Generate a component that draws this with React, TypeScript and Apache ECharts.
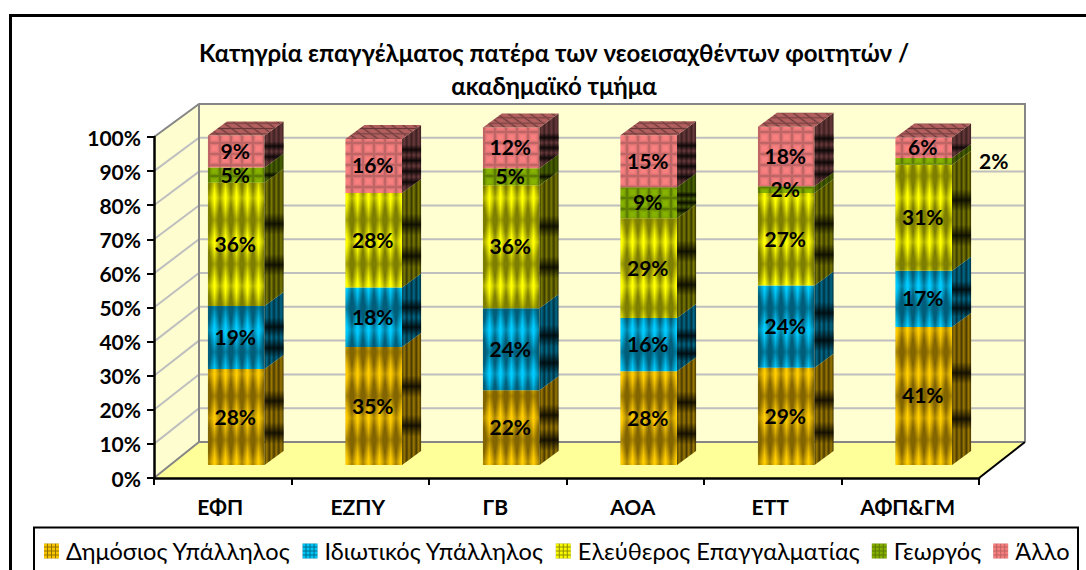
import React, { useEffect, useRef } from "react";
import * as echarts from "echarts";

const FONT = "Lato, 'Open Sans', 'Noto Sans', sans-serif";
const titleText = "Κατηγρία επαγγέλματος πατέρα των νεοεισαχθέντων φοιτητών /\nακαδημαϊκό τμήμα";
const categories = ["ΕΦΠ", "ΕΖΠΥ", "ΓΒ", "ΑΟΑ", "ΕΤΤ", "ΑΦΠ&ΓΜ"];
const seriesNames = ["Δημόσιος Υπάλληλος", "Ιδιωτικός Υπάλληλος", "Ελεύθερος Επαγγαλματίας", "Γεωργός", "Άλλο"];
const dimosios = [28.2, 34.7, 22, 27.6, 28.6, 40.6];
const idiotikos = [18.6, 17.5, 24.1, 15.6, 24.2, 16.5];
const eleftheros = [36.2, 27.8, 36.2, 29.4, 27.2, 31.2];
const georgos = [4.5, 0, 5, 9.1, 2, 2];
const allo = [9.4, 15.9, 12, 15.3, 17.5, 6];
const seriesValues = [dimosios, idiotikos, eleftheros, georgos, allo];
const yTicks = [0, 10, 20, 30, 40, 50, 60, 70, 80, 90, 100];

type Pal = { bright: number[]; dark: number[]; side: string; sideDark: string; kind: "stripe" | "block"; rowPx: number };
const palettes: Pal[] = [
  { bright: [255, 204, 0], dark: [120, 92, 0], side: "#9a7800", sideDark: "#4a3900", kind: "stripe", rowPx: 0 },
  { bright: [0, 204, 255], dark: [0, 84, 110], side: "#006a8a", sideDark: "#00303f", kind: "stripe", rowPx: 0 },
  { bright: [255, 255, 0], dark: [115, 115, 0], side: "#7a7a00", sideDark: "#383800", kind: "stripe", rowPx: 0 },
  { bright: [134, 178, 0], dark: [80, 108, 0], side: "#4a6300", sideDark: "#2a3800", kind: "block", rowPx: 7.5 },
  { bright: [250, 128, 128], dark: [172, 92, 92], side: "#6a3a3c", sideDark: "#3c2021", kind: "block", rowPx: 11 },
];

function tile(w: number, h: number, fn: (x: number, y: number) => number[]) {
  const c = document.createElement("canvas");
  c.width = w;
  c.height = h;
  const g = c.getContext("2d")!;
  const d = g.createImageData(w, h);
  for (let y = 0; y < h; y++)
    for (let x = 0; x < w; x++) {
      const p = fn(x, y);
      const i = (y * w + x) * 4;
      d.data[i] = p[0];
      d.data[i + 1] = p[1];
      d.data[i + 2] = p[2];
      d.data[i + 3] = 255;
    }
  g.putImageData(d, 0, 0);
  return c.toDataURL();
}
const mix = (a: number[], b: number[], t: number) => a.map((v, i) => v + (b[i] - v) * t);
const TW = 11;
const TH = 44;
const BH = 11;

function frontTile(p: Pal) {
  if (p.kind === "stripe")
    return tile(TW, TH, (x, y) => {
      const du = Math.abs((x + 0.5) / TW - 0.5) * 2;
      const dv = Math.abs((y + 0.5) / TH - 0.5) * 2;
      const lobe = Math.max(0, 1 - du * (0.7 + 0.8 * dv));
      return mix(p.dark, p.bright, Math.min(1, 0.08 + lobe * (1 - 0.72 * Math.pow(dv, 1.4))));
    });
  return tile(TW, BH, (x, y) => {
    const du = Math.abs((x + 0.5) / TW - 0.5) * 2;
    const dv = Math.abs((y + 0.5) / BH - 0.5) * 2;
    return mix(p.dark, p.bright, 1 - Math.pow(Math.max(du, dv), 3));
  });
}
function topTile(p: Pal) {
  const dk = mix(p.dark, [0, 0, 0], 0.4);
  const lt = mix(p.dark, p.bright, 0.1);
  return tile(22, 16, (x, y) => {
    const sx = x + (16 - y) * 1.375;
    const du = Math.abs((((sx / 11) % 1) + 1) % 1 - 0.5) * 2;
    const dv = Math.abs(((y / 5.33) % 1) - 0.5) * 2;
    return mix(dk, lt, 1 - Math.pow(Math.max(du, dv), 4));
  });
}
function legendTile(p: Pal) {
  return tile(4, 4, (x, y) => (x === 3 || y === 3 ? mix(p.dark, p.bright, 0.2) : mix(p.dark, p.bright, 0.95)));
}

function buildOption() {
  const fronts = palettes.map(frontTile);
  const tops = palettes.map(topTile);
  const legends = palettes.map(legendTile);
  const DX = 19;
  const DY = -14;

  const segmentItem = (si: number) => (params: any, api: any) => {
    const c = api.value(0);
    const base = api.value(1);
    const val = api.value(2);
    if (!val) return { type: "group", children: [] };
    const pal = palettes[si];
    const b = api.coord([c, base]);
    const t = api.coord([c, base + val]);
    const w = api.size([1, 0])[0] * 0.412;
    const x0 = b[0] - w / 2;
    const x1 = x0 + w;
    const h = b[1] - t[1];
    const rows = pal.kind === "stripe" ? 3 : Math.max(1, Math.round(h / pal.rowPx));
    const R = h / rows;
    const children: any[] = [];
    children.push({
      type: "rect",
      shape: { x: x0, y: t[1], width: w, height: h },
      style: {
        fill: {
          image: fronts[si],
          imageWidth: TW,
          imageHeight: pal.kind === "stripe" ? TH : BH,
          repeat: "repeat",
          x: x0,
          y: t[1],
          scaleX: w / (5 * TW),
          scaleY: R / (pal.kind === "stripe" ? TH : BH),
        },
      },
    });
    const stops: any[] = [];
    for (let i = 0; i < 4; i++) {
      stops.push({ offset: i / 4, color: pal.sideDark });
      stops.push({ offset: (i + 0.45) / 4, color: pal.side });
      stops.push({ offset: (i + 1) / 4, color: pal.sideDark });
    }
    const sidePts = [[x1, b[1]], [x1 + DX, b[1] + DY], [x1 + DX, t[1] + DY], [x1, t[1]]];
    children.push({
      type: "polygon",
      shape: { points: sidePts },
      style: { fill: new echarts.graphic.LinearGradient(x1, 0, x1 + DX, 0, stops, true) },
    });
    if (rows > 1) {
      const yA = t[1] + DY;
      const span = b[1] - yA;
      const half = Math.min(11, R * 0.45);
      const vStops: any[] = [{ offset: 0, color: "rgba(0,0,0,0)" }];
      for (let k = 1; k < rows; k++) {
        const yb = t[1] + k * R;
        vStops.push({ offset: (yb - half - yA) / span, color: "rgba(0,0,0,0)" });
        vStops.push({ offset: (yb - yA) / span, color: "rgba(0,0,0,0.8)" });
        vStops.push({ offset: (yb + half - yA) / span, color: "rgba(0,0,0,0)" });
      }
      vStops.push({ offset: 1, color: "rgba(0,0,0,0)" });
      children.push({
        type: "polygon",
        shape: { points: sidePts },
        style: { fill: new echarts.graphic.LinearGradient(0, yA, 0, b[1], vStops, true) },
      });
    }
    if (si === seriesValues.length - 1) {
      children.push({
        type: "polygon",
        shape: { points: [[x0, t[1]], [x0 + DX, t[1] + DY], [x1 + DX, t[1] + DY], [x1, t[1]]] },
        style: {
          fill: { image: tops[si], imageWidth: 22, imageHeight: 16, repeat: "repeat", x: x0, y: t[1] },
        },
      });
    }
    return { type: "group", children };
  };

  const stacked = seriesValues.map((vals, si) =>
    vals.map((v, c) => {
      let base = 0;
      for (let j = 0; j < si; j++) base += seriesValues[j][c];
      return [c, base, v];
    }),
  );
  const barSeries = seriesNames.map((name, si) => ({
    type: "custom",
    name,
    xAxisIndex: 1,
    yAxisIndex: 1,
    z: 4,
    silent: true,
    encode: { x: 0, y: [1, 2] },
    data: stacked[si],
    renderItem: segmentItem(si),
  }));

  const labelData: number[][] = [];
  stacked.forEach((rows, si) =>
    rows.forEach((r) => {
      if (r[2]) labelData.push([r[0], r[1] + r[2] / 2, r[2], si === 3 && r[0] === 5 ? 71 : 0]);
    }),
  );

  return {
    animation: false,
    backgroundColor: "#ffffff",
    textStyle: { fontFamily: FONT },
    title: {
      text: titleText,
      left: 549,
      top: 31,
      textAlign: "center",
      textStyle: { fontFamily: FONT, fontWeight: "bold", fontSize: 24, lineHeight: 33, color: "#000" },
    },
    legend: {
      left: 44,
      top: 539,
      itemWidth: 15,
      itemHeight: 15,
      itemGap: 12,
      padding: 0,
      selectedMode: false,
      textStyle: { fontFamily: FONT, fontSize: 23.6, color: "#000", padding: [0, 0, 0, 2] },
      data: seriesNames.map((name, i) => ({
        name,
        icon: "rect",
        itemStyle: {
          color: { image: legends[i], imageWidth: 4, imageHeight: 4, repeat: "repeat" },
          borderWidth: 0,
        },
      })),
    },
    grid: [
      { left: 154, width: 825, top: 137, height: 341 },
      { left: 167.5, width: 825, top: 125, height: 340 },
    ],
    xAxis: [
      {
        type: "category",
        gridIndex: 0,
        data: categories,
        z: 3,
        axisLine: { show: true, lineStyle: { color: "#000", width: 2.5 } },
        axisTick: { show: true, length: 7, alignWithLabel: false, lineStyle: { color: "#000", width: 2 } },
        axisLabel: { fontFamily: FONT, fontWeight: "bold", fontSize: 21, color: "#000", margin: 18, padding: [0, 5, 0, 0] },
      },
      { type: "category", gridIndex: 1, data: categories, show: false },
    ],
    yAxis: [
      {
        type: "value",
        gridIndex: 0,
        min: 0,
        max: 100,
        interval: 10,
        z: 3,
        splitLine: { show: false },
        axisLine: { show: true, lineStyle: { color: "#000", width: 2.5 } },
        axisTick: { show: true, length: 7, lineStyle: { color: "#000", width: 2 } },
        axisLabel: { fontFamily: FONT, fontWeight: "bold", fontSize: 21, color: "#000", margin: 13, formatter: "{value}%" },
      },
      { type: "value", gridIndex: 1, min: 0, max: 100, show: false, splitLine: { show: false } },
    ],
    graphic: [
      { type: "polyline", silent: true, shape: { points: [[10.5, 575], [10.5, 15.5], [1090, 15.5]] }, style: { stroke: "#000", lineWidth: 3, fill: "none" } },
      { type: "polyline", silent: true, shape: { points: [[34, 575], [34, 527.5], [1078, 527.5], [1078, 575]] }, style: { stroke: "#000", lineWidth: 2, fill: "none" } },
    ],
    series: [
      {
        type: "custom",
        name: "walls",
        xAxisIndex: 0,
        yAxisIndex: 0,
        z: 1,
        silent: true,
        clip: false,
        data: yTicks.map((v) => [0, v]),
        encode: { x: 0, y: 1 },
        renderItem: (params: any, api: any) => {
          const cs = params.coordSys;
          const L = cs.x;
          const R = cs.x + cs.width;
          const T = cs.y;
          const B = cs.y + cs.height;
          const bL = L + 45;
          const bR = R + 46;
          const bT = 104;
          const bB = 442;
          const toBack = (y: number) => bB - ((B - y) * (bB - bT)) / (B - T);
          const v = api.value(1);
          const y = api.coord([0, v])[1];
          const by = toBack(y);
          const children: any[] = [];
          if (params.dataIndex === 0) {
            children.push(
              { type: "polygon", shape: { points: [[bL, bT], [bR, bT], [bR, bB], [bL, bB]] }, style: { fill: "#FFFFD1" } },
              { type: "polygon", shape: { points: [[L, T], [bL, bT], [bL, bB], [L, B]] }, style: { fill: "#FDFDD0" } },
              { type: "polygon", shape: { points: [[L, B], [bL, bB], [bR, bB], [R, B]] }, style: { fill: "#FFFF99" } },
            );
          }
          if (v > 0 && v < 100) {
            children.push({ type: "polyline", shape: { points: [[L, y], [bL, by], [bR, by]] }, style: { stroke: "#BFBFBF", lineWidth: 2, fill: "none" } });
          }
          if (params.dataIndex === yTicks.length - 1) {
            const gray = "#868686";
            children.push(
              { type: "polyline", shape: { points: [[L, B], [bL, bB], [bR, bB]] }, style: { stroke: gray, lineWidth: 2, fill: "none" } },
              { type: "polyline", shape: { points: [[L, T], [bL, bT], [bR, bT], [bR, bB]] }, style: { stroke: gray, lineWidth: 2, fill: "none" } },
              { type: "line", shape: { x1: bL, y1: bT, x2: bL, y2: bB }, style: { stroke: gray, lineWidth: 2 } },
              { type: "line", shape: { x1: R, y1: B, x2: bR, y2: bB }, style: { stroke: "#000", lineWidth: 2 } },
            );
          }
          return { type: "group", children };
        },
      },
      ...barSeries,
      {
        type: "custom",
        name: "labels",
        xAxisIndex: 1,
        yAxisIndex: 1,
        z: 6,
        silent: true,
        clip: false,
        encode: { x: 0, y: 1 },
        data: labelData,
        renderItem: (_p: any, api: any) => {
          const pos = api.coord([api.value(0), api.value(1)]);
          return {
            type: "text",
            style: {
              text: Math.round(api.value(2)) + "%",
              x: pos[0] + api.value(3) - 1,
              y: pos[1] - 1,
              align: "center",
              verticalAlign: "middle",
              font: `bold 21px ${FONT}`,
              fill: "#000",
            },
          };
        },
      },
    ],
  };
}

export default function App() {
  const ref = useRef<HTMLDivElement>(null);
  useEffect(() => {
    document.body.style.margin = "0";
    document.body.style.overflow = "hidden";
    const chart = echarts.init(ref.current!, null, { renderer: "svg" });
    chart.setOption(buildOption() as any);
    return () => chart.dispose();
  }, []);
  return <div ref={ref} style={{ width: 1086, height: 570 }} />;
}
